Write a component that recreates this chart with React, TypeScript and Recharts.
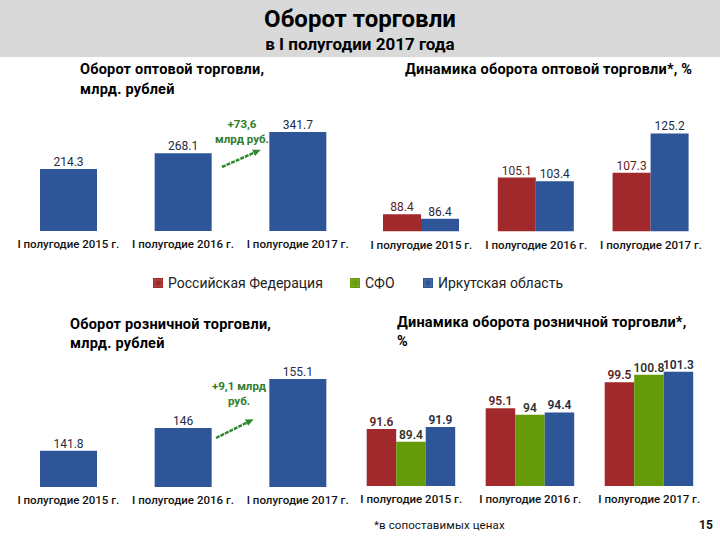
import React from "react";
import { Bar, BarChart, LabelList, XAxis, YAxis } from "recharts";

// #region Data
const periods = ["I полугодие 2015 г.", "I полугодие 2016 г.", "I полугодие 2017 г."];

const wholesaleVolume = [214.3, 268.1, 341.7];
const wholesaleRf = [88.4, 105.1, 107.3];
const wholesaleIrk = [86.4, 103.4, 125.2];

const retailVolume = [141.8, 146, 155.1];
const retailRf = [91.6, 95.1, 99.5];
const retailSfo = [89.4, 94, 100.8];
const retailIrk = [91.9, 94.4, 101.3];

const legendItems = ["Российская Федерация", "СФО", "Иркутская область"];
// #endregion

const FONT = "Roboto, 'Open Sans', sans-serif";
const RED = "#a1292c";
const GREEN = "#659b09";
const BLUE = "#2e5597";
const RED_TEXT = "#5c2424";
const GREEN_TEXT = "#2f3527";
const BLUE_TEXT = "#1e2b45";
const ARROW = "#2f8a2f";

const wholesaleRows = periods.map((p, i) => ({ period: p, value: wholesaleVolume[i] }));
const wholesaleDyn = periods.map((p, i) => ({ period: p, rf: wholesaleRf[i], irk: wholesaleIrk[i] }));
const retailRows = periods.map((p, i) => ({ period: p, value: retailVolume[i] }));
const retailDyn = periods.map((p, i) => ({
  period: p,
  rf: retailRf[i],
  sfo: retailSfo[i],
  irk: retailIrk[i],
}));

type Series = { key: string; color: string; text: string };

const PanelChart = ({
  data,
  series,
  domain,
  left,
  top,
  width,
  height,
  margin,
  barSize,
  labelWeight = 400,
}: {
  data: any[];
  series: Series[];
  domain: [number, number];
  left: number;
  top: number;
  width: number;
  height: number;
  margin: { top: number; left: number; right: number; bottom: number };
  barSize: number;
  labelWeight?: number;
}) => (
  <div style={{ position: "absolute", left, top }}>
    <BarChart width={width} height={height} data={data} margin={margin} barGap={0} barSize={barSize}>
      <XAxis
        dataKey="period"
        axisLine={false}
        tickLine={false}
        interval={0}
        height={30}
        tickMargin={3}
        tick={{ fill: "#111", fontSize: 11.5, fontFamily: FONT, fontWeight: 500 }}
      />
      <YAxis hide domain={domain} allowDataOverflow />
      {series.map((s) => (
        <Bar key={s.key} dataKey={s.key} fill={s.color} isAnimationActive={false}>
          <LabelList
            dataKey={s.key}
            position="top"
            offset={3}
            fill={s.text}
            fontSize={12}
            fontFamily={FONT}
            fontWeight={labelWeight}
          />
        </Bar>
      ))}
    </BarChart>
  </div>
);

const abs = (left: number, top: number, extra: React.CSSProperties = {}): React.CSSProperties => ({
  position: "absolute",
  left,
  top,
  whiteSpace: "nowrap",
  fontFamily: FONT,
  ...extra,
});

const titleStyle: React.CSSProperties = {
  fontSize: 14.5,
  fontWeight: 700,
  color: "#000",
  lineHeight: "20px",
  letterSpacing: 0.2,
};
const noteStyle: React.CSSProperties = {
  fontSize: 11.5,
  fontWeight: 700,
  color: "#2f7d2f",
  lineHeight: "15px",
  textAlign: "center",
  width: 80,
};

const legendColors = [RED, GREEN, BLUE];
const legendX = [153, 350, 423];

export default function App() {
  return (
    <div
      style={{
        position: "absolute",
        left: 0,
        top: 0,
        width: 720,
        height: 540,
        background: "#fff",
        overflow: "hidden",
        fontFamily: FONT,
      }}
    >
      {/* header */}
      <div style={{ position: "absolute", left: 0, top: 0, width: 720, height: 57, background: "#d9d9d9" }} />
      <div style={abs(0, 5, { width: 720, textAlign: "center", fontSize: 24, fontWeight: 700, lineHeight: "28px" })}>
        Оборот торговли
      </div>
      <div style={abs(0, 33, { width: 720, textAlign: "center", fontSize: 17, fontWeight: 700, lineHeight: "22px" })}>
        в I полугодии 2017 года
      </div>

      {/* panel titles */}
      <div style={abs(80, 60, titleStyle)}>Оборот оптовой торговли,</div>
      <div style={abs(80, 80, titleStyle)}>млрд. рублей</div>
      <div style={abs(405, 60, titleStyle)}>Динамика оборота оптовой торговли*, %</div>
      <div style={abs(70, 315, titleStyle)}>Оборот розничной торговли,</div>
      <div style={abs(70, 334, titleStyle)}>млрд. рублей</div>
      <div style={abs(397, 313, titleStyle)}>Динамика оборота розничной торговли*,</div>
      <div style={abs(397, 332, titleStyle)}>%</div>

      <PanelChart
        data={wholesaleRows}
        series={[{ key: "value", color: BLUE, text: BLUE_TEXT }]}
        domain={[0, 397]}
        left={0}
        top={100}
        width={360}
        height={161}
        margin={{ top: 16, left: 11, right: 5, bottom: 0 }}
        barSize={57}
      />
      <PanelChart
        data={wholesaleDyn}
        series={[
          { key: "rf", color: RED, text: RED_TEXT },
          { key: "irk", color: BLUE, text: BLUE_TEXT },
        ]}
        domain={[80.6, 133.1]}
        left={360}
        top={100}
        width={360}
        height={161.5}
        margin={{ top: 16, left: 4, right: 11.6, bottom: 0 }}
        barSize={38}
      />
      <PanelChart
        data={retailRows}
        series={[{ key: "value", color: BLUE, text: BLUE_TEXT }]}
        domain={[135.1, 157.3]}
        left={0}
        top={351}
        width={360}
        height={166}
        margin={{ top: 16, left: 11, right: 5, bottom: 0 }}
        barSize={57}
      />
      <PanelChart
        data={retailDyn}
        series={[
          { key: "rf", color: RED, text: RED_TEXT },
          { key: "sfo", color: GREEN, text: GREEN_TEXT },
          { key: "irk", color: BLUE, text: BLUE_TEXT },
        ]}
        domain={[81.9, 103.3]}
        left={340}
        top={344}
        width={380}
        height={172}
        margin={{ top: 16, left: 11.7, right: 11.3, bottom: 0 }}
        barSize={29.5}
        labelWeight={600}
      />

      {/* growth notes */}
      <div style={abs(202, 117, noteStyle)}>
        +73,6
        <br />
        млрд руб.
      </div>
      <div style={abs(199, 379, noteStyle)}>
        +9,1 млрд
        <br />
        руб.
      </div>
      <svg width={720} height={540} style={{ position: "absolute", left: 0, top: 0, pointerEvents: "none" }}>
        <defs>
          <marker
            id="arrowHead"
            markerUnits="userSpaceOnUse"
            markerWidth="8"
            markerHeight="8"
            refX="5"
            refY="4"
            orient="auto"
          >
            <path d="M0,0.5 L8,4 L0,7.5 z" fill={ARROW} />
          </marker>
        </defs>
        <line x1={222} y1={167} x2={258} y2={151} stroke={ARROW} strokeWidth={2.5} strokeDasharray="4 1" markerEnd="url(#arrowHead)" />
        <line x1={216} y1={438} x2={251} y2={420.5} stroke={ARROW} strokeWidth={2.5} strokeDasharray="4 1" markerEnd="url(#arrowHead)" />
      </svg>

      {/* legend */}
      {legendItems.map((name, i) => (
        <div key={name} style={abs(legendX[i], 275, { display: "flex", alignItems: "center", fontSize: 14, color: "#222" })}>
          <span
            style={{
              display: "inline-block",
              width: 8,
              height: 8,
              marginRight: 5,
              background: `radial-gradient(circle, ${legendColors[i]} 30%, ${legendColors[i]}cc 100%)`,
              border: `1px solid ${legendColors[i]}`,
            }}
          />
          {name}
        </div>
      ))}

      {/* footer */}
      <div style={abs(374, 518, { fontSize: 11.5, color: "#111", letterSpacing: 0.1 })}>*в сопоставимых ценах</div>
      <div style={abs(699, 518, { fontSize: 12, fontWeight: 700, color: "#111" })}>15</div>
    </div>
  );
}
